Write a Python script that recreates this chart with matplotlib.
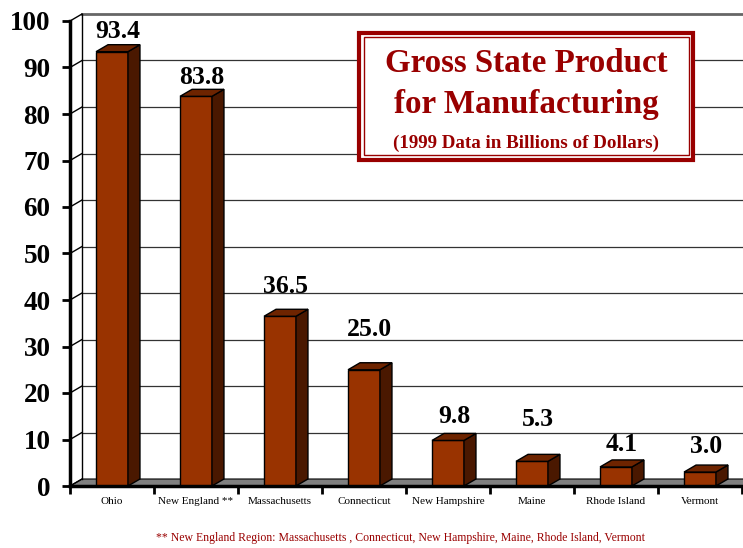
import matplotlib
matplotlib.use("Agg")
import matplotlib.pyplot as plt
from matplotlib.patches import Polygon, Rectangle
from matplotlib.transforms import IdentityTransform
import numpy as np

categories = ["Ohio", "New England **", "Massachusetts", "Connecticut",
              "New Hampshire", "Maine", "Rhode Island", "Vermont"]
values = [93.4, 83.8, 36.5, 25.0, 9.8, 5.3, 4.1, 3.0]
value_labels = ["93.4", "83.8", "36.5", "25.0", "9.8", "5.3", "4.1", "3.0"]
y_ticks = [0, 10, 20, 30, 40, 50, 60, 70, 80, 90, 100]

# extra lift (points) of each value label above its bar
label_lift = [4, 3.5, 11.5, 18.5, 7, 20, 6, 8]

FRONT = "#993300"
SIDE = "#4a1800"
TOP = "#6e2400"
DARKRED = "#990000"
SERIF = ["Liberation Serif", "DejaVu Serif"]

W, H, DPI = 743, 548, 100
fig = plt.figure(figsize=(W / DPI, H / DPI), dpi=DPI)
fig.patch.set_facecolor("white")

ax = fig.add_axes([70 / W, (H - 486) / H, (742 - 70) / W, (486 - 21) / H])
ax.set_xlim(-0.5, len(categories) - 0.5)
ax.set_ylim(0, 100)
ax.patch.set_alpha(0)

# depth of the 3-D frame, in pixels (right, up)
DX, DY = 12, 7
ident = IdentityTransform()


def px(x, y, d=0.0):
    p = ax.transData.transform((x, y))
    return (p[0] + d * DX, p[1] + d * DY)


def poly(pts, **kw):
    ax.add_patch(Polygon(pts, closed=True, transform=ident, clip_on=False, **kw))


def line(pts, **kw):
    xs, ys = zip(*pts)
    ax.add_line(plt.Line2D(xs, ys, transform=ident, clip_on=False, **kw))


x0, x1 = -0.5, len(categories) - 0.5
x_far = x1 + 0.3

# floor
poly([px(x0, 0), px(x_far, 0), px(x_far, 0, 1), px(x0, 0, 1)],
     facecolor="#808080", edgecolor="black", linewidth=0.8, zorder=1)

# back wall gridlines and the diagonals joining them to the front ticks
for t in y_ticks[1:]:
    lw, col = (2.0, "#666666") if t == 100 else (0.9, "#333333")
    line([px(x0, t, 1), px(x_far, t, 1)], color=col, linewidth=lw, zorder=1)
for t in y_ticks:
    line([px(x0, t), px(x0, t, 1)], color="black", linewidth=1.0, zorder=1)
line([px(x0, 0, 1), px(x0, 100, 1)], color="black", linewidth=1.0, zorder=1)

# bars: front faces via ax.bar, side and top faces as depth polygons
xs = np.arange(len(categories))
bw = 0.38
ax.bar(xs, values, width=bw, color=FRONT, edgecolor="black", linewidth=1.0, zorder=3)
for x, v in zip(xs, values):
    l, r = x - bw / 2, x + bw / 2
    poly([px(r, 0), px(r, 0, 1), px(r, v, 1), px(r, v)],
         facecolor=SIDE, edgecolor="black", linewidth=1.0, zorder=3)
    poly([px(l, v), px(r, v), px(r, v, 1), px(l, v, 1)],
         facecolor=TOP, edgecolor="black", linewidth=1.0, zorder=3)

# value labels
for x, v, s, lift in zip(xs, values, value_labels, label_lift):
    ax.annotate(s, xy=(x + 0.07, v), xytext=(0, 2 + lift), textcoords="offset points",
                ha="center", va="bottom", fontsize=18.5, fontweight="bold",
                family=SERIF, color="black", annotation_clip=False, zorder=5)

# axes styling
for side in ("top", "right"):
    ax.spines[side].set_visible(False)
ax.spines["left"].set_linewidth(2.5)
ax.spines["bottom"].set_linewidth(2.5)
ax.spines["left"].set_zorder(4)
ax.spines["bottom"].set_zorder(4)

ax.set_yticks(y_ticks)
ax.set_yticklabels([str(t) for t in y_ticks], family=SERIF, fontweight="bold", fontsize=19.5)
ax.tick_params(axis="y", length=6, width=2, pad=8, direction="out")

ax.set_xticks(xs)
ax.set_xticklabels(categories, family=SERIF, fontsize=8)
ax.tick_params(axis="x", which="major", length=0, pad=8)
ax.set_xticks(np.arange(len(categories) + 1) - 0.5, minor=True)
ax.tick_params(axis="x", which="minor", length=6, width=2, direction="out")

# title box
bx0, by0, bx1, by1 = 359, 33, 693, 160
fig.patches.append(Rectangle((bx0 / W, 1 - by1 / H), (bx1 - bx0) / W, (by1 - by0) / H,
                             transform=fig.transFigure, facecolor="white",
                             edgecolor=DARKRED, linewidth=3, zorder=6))
ins = 4.5
fig.patches.append(Rectangle(((bx0 + ins) / W, 1 - (by1 - ins) / H),
                             (bx1 - bx0 - 2 * ins) / W, (by1 - by0 - 2 * ins) / H,
                             transform=fig.transFigure, facecolor="none",
                             edgecolor=DARKRED, linewidth=1, zorder=7))
cx = (bx0 + bx1) / 2 / W
fig.text(cx, 1 - 64 / H, "Gross State Product", ha="center", va="center",
         fontsize=23.8, fontweight="bold", family=SERIF, color=DARKRED, zorder=8)
fig.text(cx, 1 - 104 / H, "for Manufacturing", ha="center", va="center",
         fontsize=23.8, fontweight="bold", family=SERIF, color=DARKRED, zorder=8)
fig.text(cx, 1 - 143 / H, "(1999 Data in Billions of Dollars)", ha="center", va="center",
         fontsize=13.7, fontweight="bold", family=SERIF, color=DARKRED, zorder=8)

# footnote
fig.text(400 / W, 1 - 538 / H,
         "** New England Region: Massachusetts , Connecticut, New Hampshire, Maine, Rhode Island, Vermont",
         ha="center", va="center", fontsize=8.5, family=SERIF, color=DARKRED)

fig.savefig("out.png", dpi=DPI)
